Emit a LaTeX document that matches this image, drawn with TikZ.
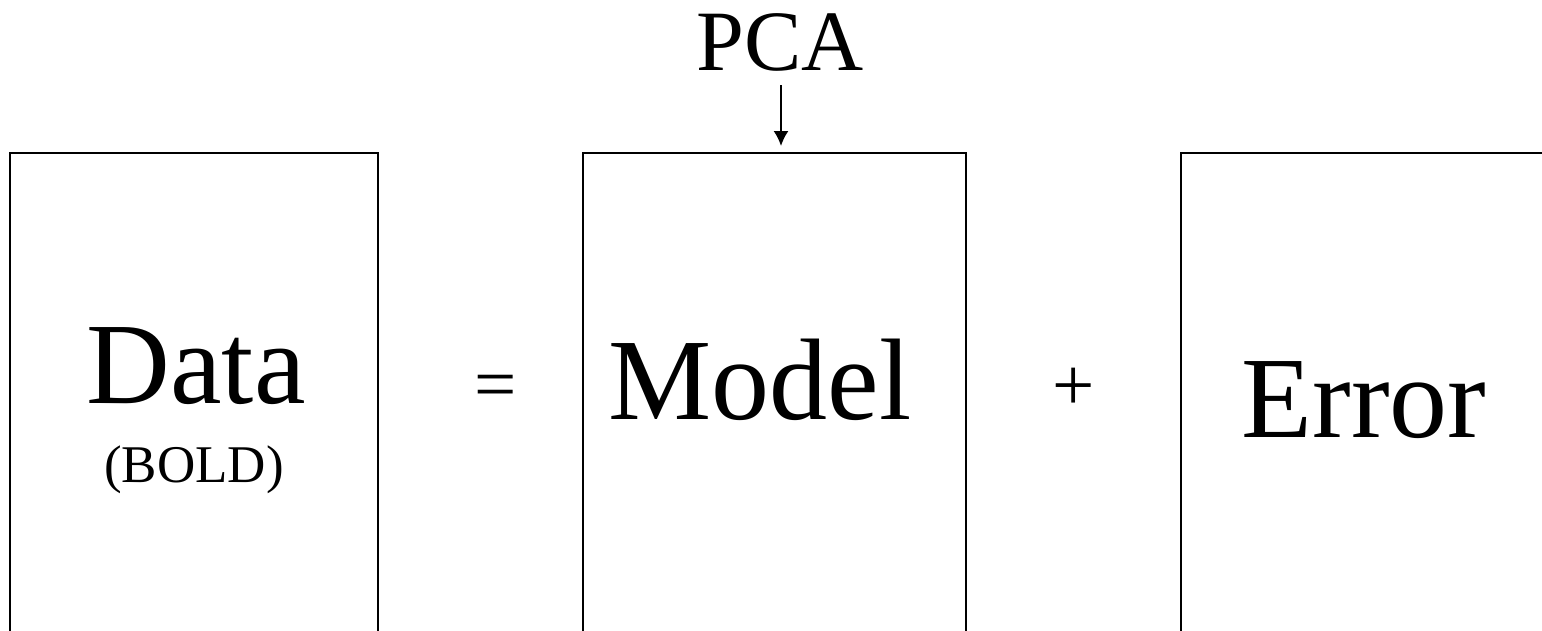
\documentclass[tikz,border=0pt]{standalone}
\usepackage{fontspec}
\setmainfont{Liberation Serif}
\usetikzlibrary{arrows.meta}
\tikzset{
  boxline/.style={line width=1.9pt, black},
  bigtext/.style={anchor=base, inner sep=0pt, font=\fontsize{116}{120}\selectfont},
  midtext/.style={anchor=base, inner sep=0pt, font=\fontsize{86}{90}\selectfont},
  smalltext/.style={anchor=base, inner sep=0pt, font=\fontsize{53}{56}\selectfont},
  optext/.style={anchor=base, inner sep=0pt, font=\fontsize{75}{78}\selectfont},
  pcaarrow/.style={line width=1.9pt, -{Latex[length=15pt,width=15pt]}}
}
\begin{document}
\begin{tikzpicture}[x=1pt,y=-1pt]
\useasboundingbox (0,0) rectangle (1542,630);
% open-bottom boxes
\draw[boxline] (10,632) -- (10,153) -- (378,153) -- (378,632);
\draw[boxline] (583,632) -- (583,153) -- (966,153) -- (966,632);
\draw[boxline] (1181,632) -- (1181,153) -- (1545,153);
% texts
\node[bigtext] (data) at (196,403) {Data};
\node[smalltext] (bold) at (194,482) {(BOLD)};
\node[optext] (eq) at (495.5,409) {=};
\node[bigtext] (model) at (760,419) {Model};
\node[optext] (plus) at (1074,410) {+};
\node[bigtext] (error) at (1364,437) {Error};
\node[midtext] (pca) at (780,70) {PCA};
% arrow
\coordinate (arrstart) at (781,85);
\coordinate (arrtip) at (781,146);
\draw[pcaarrow] (arrstart) -- (arrtip);
\end{tikzpicture}
\end{document}
